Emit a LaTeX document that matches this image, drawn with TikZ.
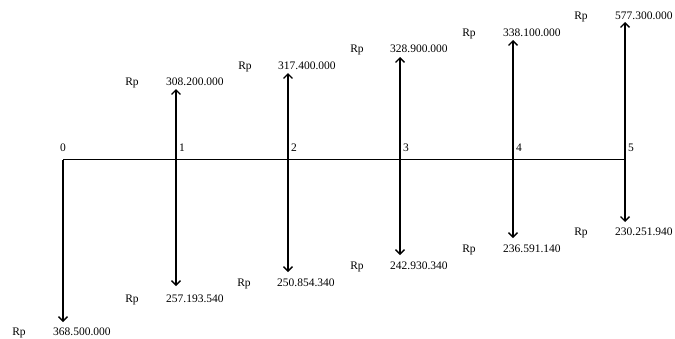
\documentclass[tikz,border=0pt]{standalone}
\usepackage{fontspec}
\setmainfont{Liberation Serif}
\usetikzlibrary{arrows.meta}
\tikzset{
  flow/.style={line width=1.4pt, -{Straight Barb[length=4.5pt,width=9pt,line width=1.4pt]}},
  axis/.style={line width=1.6pt},
  lbl/.style={inner sep=0pt, font=\fontsize{11.5}{13}\selectfont},
  amt/.style={lbl, anchor=base west},
  cur/.style={lbl, anchor=base},
  tick/.style={lbl, anchor=base}
}
\begin{document}
\begin{tikzpicture}[x=1pt,y=-1pt]
\useasboundingbox (0,0) rectangle (675,338);
% axis points
\coordinate (t0) at (63,159.5);
\coordinate (t1) at (176,159.5);
\coordinate (t2) at (288,159.5);
\coordinate (t3) at (400,159.5);
\coordinate (t4) at (513,159.5);
\coordinate (t5) at (625,159.5);
\draw[axis] (t0) -- (t5);
% period numbers
\node[tick] (n0) at (63,151) {0};
\node[tick] (n1) at (182,151) {1};
\node[tick] (n2) at (294,151) {2};
\node[tick] (n3) at (406,151) {3};
\node[tick] (n4) at (519,151) {4};
\node[tick] (n5) at (631,151) {5};
% inflow tips
\coordinate (u1) at (176,89);
\coordinate (u2) at (288,73);
\coordinate (u3) at (400,57);
\coordinate (u4) at (513,40);
\coordinate (u5) at (625,22);
% outflow tips
\coordinate (d0) at (63,322);
\coordinate (d1) at (176,286);
\coordinate (d2) at (288,272);
\coordinate (d3) at (400,255);
\coordinate (d4) at (513,238);
\coordinate (d5) at (625,222);
\foreach \i in {1,...,5} {\draw[flow] (t\i) -- (u\i);}
\foreach \i in {0,...,5} {\draw[flow] (t\i) -- (d\i);}
% inflow labels
\node[cur] (ru1) at (132,85) {Rp};   \node[amt] (vu1) at (166,85) {308.200.000};
\node[cur] (ru2) at (245,69) {Rp};   \node[amt] (vu2) at (278,69) {317.400.000};
\node[cur] (ru3) at (357,52) {Rp};   \node[amt] (vu3) at (390,52) {328.900.000};
\node[cur] (ru4) at (469,36) {Rp};   \node[amt] (vu4) at (503,36) {338.100.000};
\node[cur] (ru5) at (581,19) {Rp};   \node[amt] (vu5) at (615,19) {577.300.000};
% outflow labels
\node[cur] (rd0) at (19,335) {Rp};   \node[amt] (vd0) at (53,335) {368.500.000};
\node[cur] (rd1) at (132,302) {Rp};  \node[amt] (vd1) at (166,302) {257.193.540};
\node[cur] (rd2) at (244,286) {Rp};  \node[amt] (vd2) at (277,286) {250.854.340};
\node[cur] (rd3) at (357,269) {Rp};  \node[amt] (vd3) at (390,269) {242.930.340};
\node[cur] (rd4) at (469,252) {Rp};  \node[amt] (vd4) at (503,252) {236.591.140};
\node[cur] (rd5) at (581,235) {Rp};  \node[amt] (vd5) at (615,235) {230.251.940};
\end{tikzpicture}
\end{document}
